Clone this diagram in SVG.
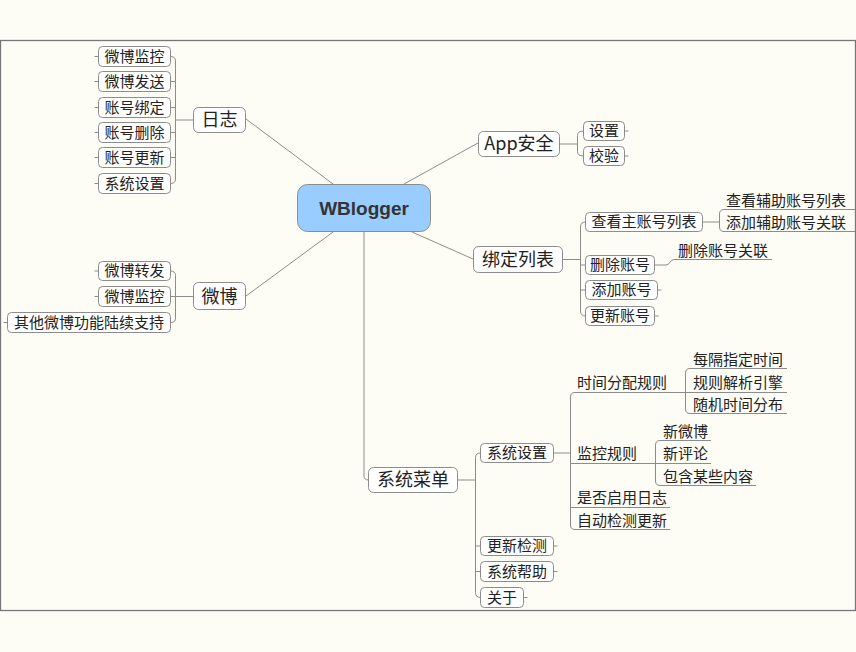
<svg xmlns="http://www.w3.org/2000/svg" width="856" height="652" viewBox="0 0 856 652">
<style>
.bg{fill:#fdfdf6}
.frame{fill:#fdfdf6;stroke:#777;stroke-width:1.3}
.b{fill:#fff;stroke:#8c8c8c;stroke-width:1}
.c{fill:none;stroke:#8c8c8c;stroke-width:1}
.t{font-family:"Noto Sans CJK SC","Noto Sans",sans-serif;font-size:15px;fill:#222;text-anchor:middle}
.t18{font-family:"Noto Sans CJK SC","Noto Sans",sans-serif;font-size:18px;fill:#222;text-anchor:middle}
.u{font-family:"Noto Sans CJK SC","Noto Sans",sans-serif;font-size:15px;fill:#222;text-anchor:start}
.root{fill:#99ccff;stroke:#8c8c8c;stroke-width:1}
.rt{font-family:"Liberation Sans",Arial,sans-serif;font-size:19px;font-weight:bold;fill:#333;text-anchor:middle}
</style>
<rect class="bg" x="0" y="0" width="856" height="652"/>
<rect class="frame" x="0.5" y="40.5" width="855" height="570"/>

<g id="connectors">
  <!-- root branches -->
  <path class="c" d="M246,119 L333,184"/>
  <path class="c" d="M246,296 L333,232"/>
  <path class="c" d="M404,184 L478,143"/>
  <path class="c" d="M412,232 L473,259"/>
  <path class="c" d="M364,232 V476 Q364,480 368.5,480"/>
  <!-- 日志 -->
  <path class="c" d="M193.5,120 H175.5 M175.5,61 V179 M175.5,61 Q175.5,56.5 170.5,56.5 M175.5,179 Q175.5,183.5 170.5,183.5 M170.5,81.5 H175.5 M170.5,107.5 H175.5 M170.5,132.5 H175.5 M170.5,157.5 H175.5"/>
  <path class="c" d="M94.5,56.5 H98.5 M94.5,81.5 H98.5 M94.5,107.5 H98.5 M94.5,132.5 H98.5 M94.5,157.5 H98.5 M94.5,183.5 H98.5"/>
  <!-- 微博 -->
  <path class="c" d="M193.5,296.5 H175.5 M175.5,275.5 V318 M175.5,275.5 Q175.5,271 170.5,271 M175.5,318 Q175.5,322.5 170.5,322.5 M170.5,296.5 H175.5"/>
  <path class="c" d="M94.5,271 H98.5 M94.5,296.5 H98.5 M3.5,322.5 H7.5"/>
  <!-- App安全 -->
  <path class="c" d="M559.5,144 H577.5 M577.5,135.5 V151.5 M577.5,135.5 Q577.5,131 583.5,131 M577.5,151.5 Q577.5,156 583.5,156"/>
  <path class="c" d="M624.5,131 H628.5 M624.5,156 H628.5"/>
  <!-- 绑定列表 -->
  <path class="c" d="M562.5,259.5 H580.5 M580.5,227 V311 M580.5,227 Q580.5,222 585.5,222 M580.5,311 Q580.5,316 585.5,316 M580.5,265 H585.5 M580.5,290 H585.5"/>
  <path class="c" d="M657.5,290 H661.5 M654.5,316 H658.5"/>
  <path class="c" d="M702.5,222 H719.5 M719.5,214 V227 M719.5,214 Q719.5,209.5 724,209.5 H855 M719.5,227 Q719.5,231.5 724,231.5 H855"/>
  <path class="c" d="M654.5,265 H666 C670,265 670,259.5 674,259.5 H772"/>
  <!-- 系统菜单 -->
  <path class="c" d="M457.5,480 H475.5 M475.5,457.5 V592.5 M475.5,457.5 Q475.5,453 480.5,453 M475.5,592.5 Q475.5,597.5 480.5,597.5 M475.5,546 H480.5 M475.5,571.5 H480.5"/>
  <path class="c" d="M553.5,546 H557.5 M553.5,571.5 H557.5 M523.5,597.5 H527.5"/>
  <!-- 系统设置 -->
  <path class="c" d="M553.5,453 H570.5 M570.5,397 V525 M570.5,397 Q570.5,392.5 575,392.5 H685.5 M570.5,463.5 H655.5 M570.5,507.5 H670 M570.5,525 Q570.5,529.5 575,529.5 H670"/>
  <path class="c" d="M685.5,373 V409 M685.5,373 Q685.5,368.5 690,368.5 H787 M685.5,392.5 H787 M685.5,409 Q685.5,413.5 690,413.5 H787"/>
  <path class="c" d="M655.5,445 V481 M655.5,445 Q655.5,440.5 660,440.5 H711 M655.5,463.5 H711 M655.5,481 Q655.5,485.5 660,485.5 H756"/>
</g>

<g id="root">
  <rect class="root" x="297.5" y="184.5" width="133" height="47" rx="10"/>
  <text class="rt" x="364" y="215">WBlogger</text>
</g>

<g id="rizhi">
  <rect class="b" x="193.5" y="107.5" width="52" height="25" rx="5"/>
  <text class="t18" x="219.5" y="126">日志</text>
</g>
<g id="rizhi-1"><rect class="b" x="98.5" y="46.5" width="72" height="20" rx="4"/><text class="t" x="134.5" y="61.5">微博监控</text></g>
<g id="rizhi-2"><rect class="b" x="98.5" y="71.5" width="72" height="20" rx="4"/><text class="t" x="134.5" y="86.5">微博发送</text></g>
<g id="rizhi-3"><rect class="b" x="98.5" y="97.5" width="72" height="20" rx="4"/><text class="t" x="134.5" y="112.5">账号绑定</text></g>
<g id="rizhi-4"><rect class="b" x="98.5" y="122.5" width="72" height="20" rx="4"/><text class="t" x="134.5" y="137.5">账号删除</text></g>
<g id="rizhi-5"><rect class="b" x="98.5" y="147.5" width="72" height="20" rx="4"/><text class="t" x="134.5" y="162.5">账号更新</text></g>
<g id="rizhi-6"><rect class="b" x="98.5" y="173.5" width="72" height="20" rx="4"/><text class="t" x="134.5" y="188.5">系统设置</text></g>

<g id="weibo">
  <rect class="b" x="193.5" y="282.5" width="52" height="27" rx="5"/>
  <text class="t18" x="219.5" y="302.5">微博</text>
</g>
<g id="weibo-1"><rect class="b" x="98.5" y="261.5" width="72" height="19" rx="4"/><text class="t" x="134.5" y="276">微博转发</text></g>
<g id="weibo-2"><rect class="b" x="98.5" y="286.5" width="72" height="20" rx="4"/><text class="t" x="134.5" y="301.5">微博监控</text></g>
<g id="weibo-3"><rect class="b" x="7.5" y="312.5" width="163" height="20" rx="4"/><text class="t" x="89" y="327.5">其他微博功能陆续支持</text></g>

<g id="app">
  <rect class="b" x="478.5" y="131.5" width="81" height="25" rx="5"/>
  <text class="t18" x="519" y="150">App安全</text>
</g>
<g id="app-1"><rect class="b" x="583.5" y="121.5" width="41" height="19" rx="4"/><text class="t" x="604" y="136">设置</text></g>
<g id="app-2"><rect class="b" x="583.5" y="146.5" width="41" height="19" rx="4"/><text class="t" x="604" y="161">校验</text></g>

<g id="bind">
  <rect class="b" x="473.5" y="246.5" width="89" height="26" rx="5"/>
  <text class="t18" x="518" y="265.5">绑定列表</text>
</g>
<g id="bind-1"><rect class="b" x="585.5" y="212.5" width="117" height="19" rx="4"/><text class="t" x="644" y="227">查看主账号列表</text></g>
<g id="bind-1a"><text class="u" x="726" y="205.5">查看辅助账号列表</text></g>
<g id="bind-1b"><text class="u" x="726" y="227.5">添加辅助账号关联</text></g>
<g id="bind-2"><rect class="b" x="585.5" y="255.5" width="69" height="19" rx="4"/><text class="t" x="620" y="270">删除账号</text></g>
<g id="bind-2a"><text class="u" x="678" y="255.5">删除账号关联</text></g>
<g id="bind-3"><rect class="b" x="585.5" y="280.5" width="72" height="19" rx="4"/><text class="t" x="621.5" y="295">添加账号</text></g>
<g id="bind-4"><rect class="b" x="585.5" y="306.5" width="69" height="19" rx="4"/><text class="t" x="620" y="321">更新账号</text></g>

<g id="menu">
  <rect class="b" x="368.5" y="467.5" width="89" height="25" rx="5"/>
  <text class="t18" x="413" y="486">系统菜单</text>
</g>
<g id="menu-1"><rect class="b" x="480.5" y="443.5" width="73" height="19" rx="4"/><text class="t" x="517" y="458">系统设置</text></g>
<g id="menu-1a"><text class="u" x="577" y="388">时间分配规则</text></g>
<g id="menu-1a1"><text class="u" x="693" y="364.5">每隔指定时间</text></g>
<g id="menu-1a2"><text class="u" x="693" y="388">规则解析引擎</text></g>
<g id="menu-1a3"><text class="u" x="693" y="409.5">随机时间分布</text></g>
<g id="menu-1b"><text class="u" x="577" y="459">监控规则</text></g>
<g id="menu-1b1"><text class="u" x="663" y="436.5">新微博</text></g>
<g id="menu-1b2"><text class="u" x="663" y="459">新评论</text></g>
<g id="menu-1b3"><text class="u" x="663" y="481.5">包含某些内容</text></g>
<g id="menu-1c"><text class="u" x="577" y="503">是否启用日志</text></g>
<g id="menu-1d"><text class="u" x="577" y="525.5">自动检测更新</text></g>
<g id="menu-2"><rect class="b" x="480.5" y="536.5" width="73" height="19" rx="4"/><text class="t" x="517" y="551">更新检测</text></g>
<g id="menu-3"><rect class="b" x="480.5" y="561.5" width="73" height="20" rx="4"/><text class="t" x="517" y="576.5">系统帮助</text></g>
<g id="menu-4"><rect class="b" x="480.5" y="587.5" width="43" height="20" rx="4"/><text class="t" x="502" y="602.5">关于</text></g>
</svg>
